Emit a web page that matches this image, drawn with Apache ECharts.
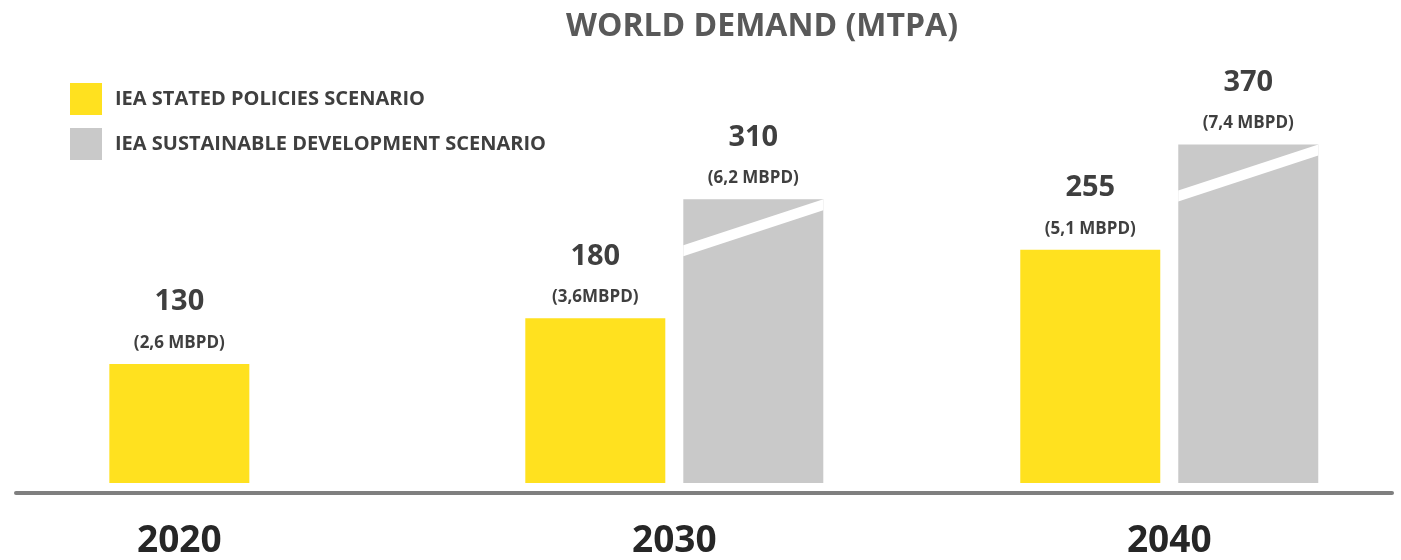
<!DOCTYPE html>
<html>
<head>
<meta charset="utf-8">
<script src="https://cdn.jsdelivr.net/npm/echarts@6/dist/echarts.min.js"></script>
<style>
  html, body { margin: 0; padding: 0; background: #fff; }
  #chart { width: 1401px; height: 560px; }
</style>
</head>
<body>
<div id="chart"></div>
<script>
const years = [2020, 2030, 2040];
const statedPolicies = [130, 180, 255];
const sustainableDev = [null, 310, 370];
const statedLabels = ['(2,6 MBPD)', '(3,6MBPD)', '(5,1 MBPD)'];
const sustainableLabels = ['', '(6,2 MBPD)', '(7,4 MBPD)'];

const YELLOW = '#FFE11F';
const GREY = '#C9C9C9';
const TEXT = '#3F3F3F';
const FONT = '"Open Sans", sans-serif';
const BAR_W = 140;
const BAR_GAP = 18;

// draws one bar per year; shifts left/right only when the other scenario has a value
function makeRender(values, labels, side, other, broken) {
  return function (params, api) {
    const i = params.dataIndex;
    const v = values[i];
    if (v == null) return null;
    const base = api.coord([years[i], 0]);
    const top = api.coord([years[i], v]);
    let cx = base[0];
    if (other[i] != null) cx += side * (BAR_W + BAR_GAP) / 2;
    const x0 = cx - BAR_W / 2, x1 = cx + BAR_W / 2;
    const y0 = top[1], y1 = base[1];
    const children = [{
      type: 'rect',
      shape: { x: x0, y: y0, width: BAR_W, height: y1 - y0 },
      style: { fill: api.visual('color') }
    }];
    if (broken) {
      // white slash marking the broken (not to scale) bar
      children.push({
        type: 'polygon',
        shape: { points: [[x0, y0 + 46], [x1, y0], [x1, y0 + 11], [x0, y0 + 57]] },
        style: { fill: '#fff' }
      });
    }
    children.push({
      type: 'text', x: cx, y: y0 - 62,
      style: { text: String(v), fill: TEXT, font: 'bold 29px ' + FONT, align: 'center', verticalAlign: 'middle' }
    });
    children.push({
      type: 'text', x: cx, y: y0 - 21,
      style: { text: labels[i], fill: TEXT, font: 'bold 17px ' + FONT, align: 'center', verticalAlign: 'middle' }
    });
    return { type: 'group', children };
  };
}

const chart = echarts.init(document.getElementById('chart'));

chart.setOption({
  animation: false,
  title: {
    text: 'WORLD DEMAND (MTPA)',
    left: 757,
    textAlign: 'center',
    top: 6,
    textStyle: { color: '#595959', fontSize: 32, fontWeight: 'bold', fontFamily: FONT }
  },
  legend: {
    orient: 'vertical',
    left: 70,
    top: 83,
    padding: 0,
    icon: 'rect',
    itemWidth: 32,
    itemHeight: 32,
    itemGap: 13,
    textStyle: { color: TEXT, fontSize: 20, fontWeight: 'bold', fontFamily: FONT, padding: [0, 0, 0, 8] },
    data: ['IEA STATED POLICIES SCENARIO', 'IEA SUSTAINABLE DEVELOPMENT SCENARIO']
  },
  grid: { left: 16, right: 9, top: 117, bottom: 71 },
  xAxis: {
    type: 'value',
    min: 2016.7,
    max: 2044.5,
    offset: 10,
    axisLine: { show: true, onZero: false, lineStyle: { color: '#7F7F7F', width: 4 } },
    axisTick: { show: false },
    splitLine: { show: false },
    axisLabel: {
      customValues: years,
      formatter: v => String(v),
      margin: 30,
      color: '#262626',
      fontSize: 37,
      fontWeight: 'bold',
      fontFamily: FONT
    }
  },
  yAxis: { type: 'value', min: 0, max: 400, show: false },
  series: [
    {
      name: 'IEA STATED POLICIES SCENARIO',
      type: 'custom',
      itemStyle: { color: YELLOW },
      renderItem: makeRender(statedPolicies, statedLabels, -1, sustainableDev, false),
      data: years.map((y, i) => [y, statedPolicies[i]])
    },
    {
      name: 'IEA SUSTAINABLE DEVELOPMENT SCENARIO',
      type: 'custom',
      itemStyle: { color: GREY },
      renderItem: makeRender(sustainableDev, sustainableLabels, 1, statedPolicies, true),
      data: years.map((y, i) => [y, sustainableDev[i]])
    }
  ]
});

window.addEventListener('resize', () => chart.resize());
</script>
</body>
</html>
